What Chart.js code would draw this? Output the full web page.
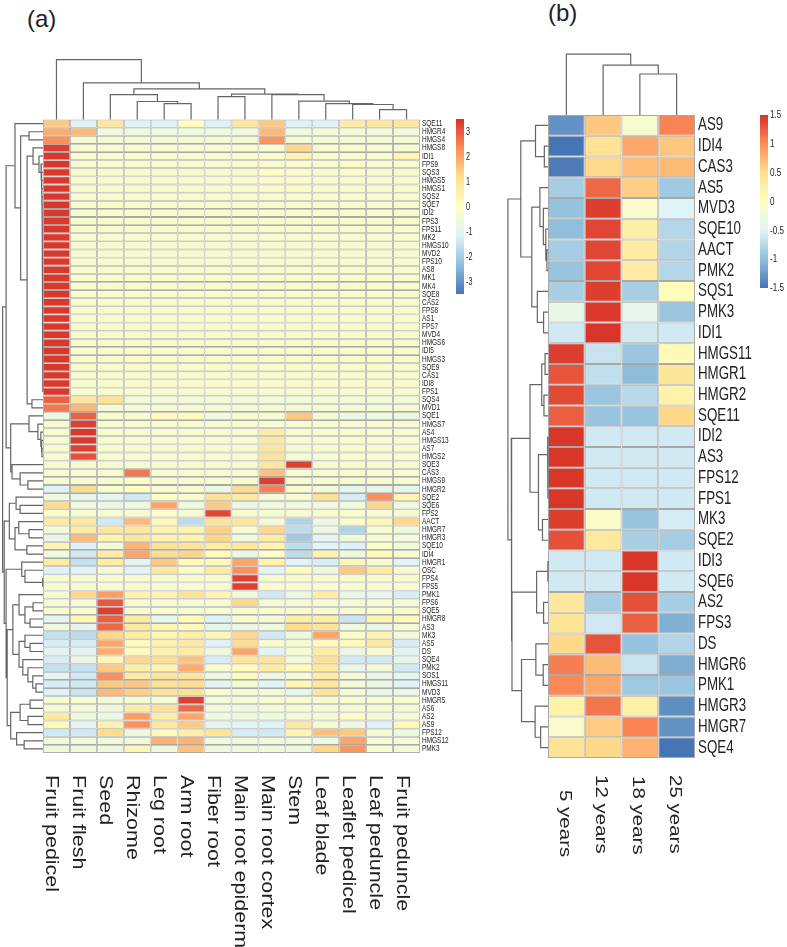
<!DOCTYPE html>
<html>
<head>
<meta charset="utf-8">
<title>Heatmaps</title>
<script src="https://cdn.jsdelivr.net/npm/chart.js@4"></script>
<style>
    html, body { margin: 0; padding: 0; background: #fff; }
    body { position: relative; width: 787px; height: 947px; overflow: hidden; }
    canvas { position: absolute; }
    .panel-tag { position: absolute; font: 24px "Liberation Sans", Arial, sans-serif; color: #222; }
</style>
</head>
<body>
<div class="panel-tag" style="left:27px;top:5px">(a)</div>
<div class="panel-tag" style="left:548px;top:-1px">(b)</div>
<canvas id="heatA" width="450" height="947" style="left:0;top:0"></canvas>
<canvas id="legendA" width="40" height="195" style="left:450px;top:109px"></canvas>
<canvas id="heatB" width="254" height="947" style="left:500px;top:0"></canvas>
<canvas id="legendB" width="33" height="193" style="left:754px;top:105px"></canvas>
<script>
// Panel (a): tissues
const tissues = ['Fruit pedicel', 'Fruit flesh', 'Seed', 'Rhizome', 'Leg root', 'Arm root', 'Fiber root',
    'Main root epiderm', 'Main root cortex', 'Stem', 'Leaf blade', 'Leaflet pedicel', 'Leaf peduncle', 'Fruit peduncle'];

const genesA = ['SQE11', 'HMGR4', 'HMGS4', 'HMGS8', 'IDI1', 'FPS9', 'SQS3', 'HMGS5', 'HMGS1', 'SQS2', 'SQE7', 'IDI2', 'FPS3',
    'FPS11', 'MK2', 'HMGS10', 'MVD2', 'FPS10', 'AS8', 'MK1', 'MK4', 'SQE8', 'CAS2', 'FPS8', 'AS1', 'FPS7', 'MVD4', 'HMGS6',
    'IDI5', 'HMGS3', 'SQE9', 'CAS1', 'IDI8', 'FPS1', 'SQS4', 'MVD1', 'SQE1', 'HMGS7', 'AS4', 'HMGS13', 'AS7', 'HMGS2', 'SQE3',
    'CAS3', 'HMGS9', 'HMGR2', 'SQE2', 'SQE6', 'FPS2', 'AACT', 'HMGR7', 'HMGR3', 'SQE10', 'IDI4', 'HMGR1', 'OSC', 'FPS4', 'FPS5',
    'PMK1', 'FPS6', 'SQE5', 'HMGR8', 'AS3', 'MK3', 'AS5', 'DS', 'SQE4', 'PMK2', 'SOS1', 'HMGS11', 'MVD3', 'HMGR5', 'AS6', 'AS2',
    'AS9', 'FPS12', 'HMGS12', 'PMK3'];

// one row per gene, one value per tissue
const valuesA = [
    [1.5, -1.2, 0.9, -1.2, -1.2, 0.05, -1.2, 0.9, 1.5, -1.2, -1.2, 0.7, 0.9, 0.9],
    [1.9, 1.7, -0.6, -0.6, -0.6, -0.6, -0.6, -0.6, 1.7, -0.6, -0.5, -0.5, -0.5, -0.5],
    [2.3, -0.4, -0.4, -0.4, -0.4, -0.4, -0.4, -0.4, 2.2, -0.4, -0.4, -0.4, -0.4, -0.4],
    [3.3, -0.3, -0.3, -0.3, -0.3, -0.3, -0.3, -0.3, -0.3, 1.3, -0.3, -0.3, -0.3, -0.3],
    [3.4, -0.3, -0.3, -0.3, -0.3, -0.3, -0.3, -0.3, -0.2, 0.4, -0.3, -0.3, -0.3, 0.3],
    [3.4, -0.25, -0.25, -0.25, -0.25, -0.25, -0.25, -0.25, -0.2, -0.2, -0.25, 0.1, -0.25, -0.25],
    [3.4, -0.25, -0.25, -0.25, -0.25, -0.25, -0.25, -0.25, -0.1, -0.2, -0.25, -0.2, -0.25, -0.25],
    [3.4, -0.15, -0.25, -0.25, -0.25, -0.15, -0.25, -0.25, -0.15, -0.2, -0.25, -0.25, -0.25, -0.25],
    [3.4, -0.25, -0.25, -0.25, -0.25, -0.25, -0.25, -0.25, -0.15, -0.15, -0.25, -0.25, -0.25, -0.25],
    [3.4, -0.25, -0.25, -0.25, -0.25, -0.25, -0.25, -0.25, -0.25, -0.25, -0.25, -0.25, -0.25, -0.25],
    [3.4, -0.25, -0.15, -0.25, -0.25, -0.25, -0.25, -0.25, -0.25, -0.25, -0.25, -0.25, -0.25, -0.25],
    [3.4, -0.25, -0.25, -0.25, -0.25, -0.25, -0.25, -0.25, -0.25, -0.25, -0.25, -0.25, -0.25, -0.25],
    [3.4, -0.25, -0.25, -0.25, -0.25, -0.25, -0.25, -0.25, -0.25, -0.25, -0.25, -0.25, -0.25, -0.25],
    [3.4, -0.25, -0.25, -0.25, -0.25, -0.25, -0.25, -0.25, -0.25, -0.25, -0.25, -0.25, -0.25, -0.25],
    [3.4, -0.25, -0.25, -0.25, -0.25, -0.25, -0.25, -0.25, -0.25, -0.25, -0.25, -0.25, -0.25, -0.25],
    [3.4, -0.25, -0.25, -0.25, -0.25, -0.25, -0.25, -0.25, -0.25, -0.25, -0.25, -0.25, -0.25, -0.25],
    [3.4, -0.25, -0.25, -0.25, -0.25, -0.25, -0.25, -0.25, -0.25, -0.25, -0.25, -0.25, -0.25, -0.25],
    [3.4, -0.25, -0.25, -0.25, -0.25, -0.25, -0.25, -0.25, -0.25, -0.25, -0.25, -0.25, -0.25, -0.25],
    [3.4, -0.25, -0.25, -0.25, -0.25, -0.25, -0.25, -0.25, -0.25, -0.25, -0.25, -0.25, -0.25, -0.25],
    [3.4, -0.25, -0.25, -0.25, -0.25, -0.25, -0.25, -0.25, -0.25, -0.25, -0.25, -0.25, -0.25, -0.25],
    [3.4, -0.25, -0.25, -0.25, -0.25, -0.25, -0.25, -0.25, -0.25, -0.25, -0.25, -0.25, -0.25, -0.25],
    [3.4, -0.25, -0.25, -0.25, -0.25, -0.25, -0.25, -0.25, -0.25, -0.25, -0.25, -0.25, -0.25, -0.25],
    [3.4, -0.25, -0.25, -0.25, -0.25, -0.25, -0.25, -0.25, -0.25, -0.25, -0.25, -0.25, -0.25, -0.25],
    [3.4, -0.25, -0.25, -0.25, -0.25, -0.25, -0.25, -0.25, -0.25, -0.25, -0.25, -0.25, -0.25, -0.25],
    [3.4, -0.25, -0.25, -0.25, -0.25, -0.25, -0.25, -0.25, -0.25, -0.25, -0.25, -0.25, -0.25, -0.25],
    [3.4, -0.25, -0.25, -0.25, -0.25, -0.25, -0.25, -0.25, -0.25, -0.25, -0.25, -0.25, -0.25, -0.25],
    [3.4, -0.25, -0.25, -0.25, -0.25, -0.25, -0.25, -0.25, -0.25, -0.25, -0.25, -0.25, -0.25, -0.25],
    [3.4, -0.25, -0.25, -0.25, -0.25, -0.25, -0.25, -0.25, -0.25, -0.25, -0.25, -0.25, -0.25, -0.25],
    [3.4, -0.25, -0.25, -0.25, -0.25, -0.25, -0.25, -0.25, -0.25, -0.25, -0.25, -0.25, -0.25, -0.25],
    [3.4, -0.25, -0.25, -0.15, -0.25, -0.25, -0.25, -0.25, -0.25, -0.25, -0.25, -0.25, -0.25, -0.25],
    [3.4, -0.25, -0.25, -0.25, -0.25, -0.25, -0.25, -0.25, -0.25, -0.25, -0.25, -0.25, -0.25, -0.25],
    [3.4, -0.25, -0.25, -0.25, -0.25, -0.25, -0.25, -0.25, -0.25, -0.25, -0.25, -0.25, -0.25, -0.25],
    [3.4, -0.25, -0.25, -0.25, -0.25, -0.25, -0.25, -0.25, -0.25, -0.25, -0.25, -0.25, -0.25, -0.25],
    [3.4, -0.25, -0.25, -0.25, -0.25, -0.25, -0.25, -0.25, -0.25, -0.25, -0.25, -0.25, -0.25, -0.25],
    [2.9, 0.9, 1.1, -0.5, -0.5, -0.5, -0.5, -0.5, -0.5, -0.5, -0.5, -0.5, -0.5, -0.5],
    [2.6, 1.7, -0.4, -0.4, -0.4, -0.4, -0.4, -0.4, -0.4, -0.4, -0.4, -0.4, -0.4, -0.4],
    [-0.7, 2.9, -0.3, -0.3, 0.1, 0.1, -0.6, -0.3, -0.3, 1.5, -0.4, -0.7, -0.6, -0.7],
    [-0.3, 3.3, -0.3, -0.3, -0.3, -0.3, -0.3, -0.3, -0.3, -0.3, -0.3, -0.3, -0.3, -0.3],
    [-0.3, 3.4, -0.3, -0.3, -0.3, -0.3, -0.3, -0.3, 0.7, -0.3, -0.3, -0.3, -0.3, -0.3],
    [-0.3, 3.4, -0.3, -0.3, -0.3, -0.3, -0.3, -0.3, 0.8, -0.3, -0.3, -0.3, -0.3, -0.3],
    [-0.3, 3.3, -0.3, -0.3, -0.3, -0.3, -0.3, -0.3, 0.9, -0.3, -0.3, -0.3, -0.3, -0.3],
    [-0.3, 3.1, -0.3, -0.3, -0.3, -0.3, -0.3, -0.3, 1.0, -0.3, -0.3, -0.3, -0.3, -0.3],
    [-0.3, -0.3, -0.3, -0.3, -0.3, -0.3, -0.3, -0.3, 0.9, 3.3, -0.3, -0.3, -0.3, -0.3],
    [-0.3, -0.3, -0.3, 2.6, -0.3, -0.3, -0.3, -0.3, 1.6, -0.3, -0.3, -0.3, -0.3, -0.3],
    [-0.3, -0.3, -0.3, -0.2, -0.3, -0.3, -0.3, -0.3, 3.3, -0.3, -0.3, -0.3, -0.3, -0.3],
    [-1.2, 1.2, -0.2, 0.0, -0.3, -0.3, -0.7, 1.2, 2.5, -0.3, -0.4, -0.9, -0.9, -0.9],
    [-0.6, -0.9, -1.0, -1.4, -0.1, -0.3, 1.1, 0.8, -0.5, -0.3, 1.1, -1.3, 2.3, 0.4],
    [1.2, -0.6, -0.7, -0.6, 2.0, -0.6, 1.5, -0.7, -0.6, -0.6, -0.6, -0.5, 1.3, -0.6],
    [-0.2, -0.3, -0.3, -0.3, -0.2, -0.3, 3.2, -0.3, -0.3, -0.3, -0.3, -0.2, -0.3, -0.3],
    [0.8, 0.8, -1.4, 1.7, 0.2, -1.7, 1.0, 0.9, -0.4, -1.9, -0.7, -0.2, 0.3, 1.3],
    [-0.5, 0.7, 0.9, 0.9, 0.4, 0.4, 1.4, -0.3, 1.3, -1.7, -0.7, -1.9, -0.3, -0.6],
    [-0.8, 1.7, 0.5, 0.9, 0.4, 0.4, 1.3, -0.6, 0.7, -2.1, -1.1, -0.6, -0.3, -0.5],
    [0.4, -1.2, -0.4, 1.8, 1.1, 1.0, 0.7, 0.9, 0.4, -1.7, -1.1, -1.2, -0.2, -0.5],
    [-0.6, -1.4, 0.7, 2.0, 1.2, 1.3, 0.1, -0.8, -0.2, -1.7, 0.4, -0.6, 0.2, -0.3],
    [0.7, -1.6, 0.7, -1.0, 1.5, 0.2, 0.2, 2.0, 0.5, -1.1, -1.3, 0.3, -0.3, -1.1],
    [-1.2, -1.1, -0.5, -1.1, 0.8, -0.2, 0.7, 2.3, -1.1, 0.1, -0.6, 1.5, 0.7, -0.3],
    [-0.3, -0.3, -0.3, -0.3, -0.3, -0.3, -0.3, 3.3, -0.3, -0.3, -0.3, -0.3, -0.3, -0.3],
    [-0.3, -0.3, -0.3, -0.3, -0.3, -0.3, -0.3, 3.3, -0.3, -0.3, -0.3, -0.3, -0.3, -0.3],
    [-0.4, 1.3, 2.1, 0.5, 0.4, 1.0, 0.4, -0.6, -1.4, -0.7, 0.7, -0.8, -0.9, -1.3],
    [-0.4, -0.4, 3.0, -0.3, -0.3, -0.3, -0.3, 1.3, -0.4, -0.4, -0.4, -0.4, -0.4, -0.4],
    [-0.3, -0.3, 3.3, -0.3, -0.3, -0.3, -0.3, -0.3, -0.3, -0.3, -0.3, -0.3, -0.3, -0.3],
    [-1.0, 0.3, 2.9, 0.7, -0.9, 0.1, -1.2, -0.3, -0.4, 0.6, 0.6, -1.5, 0.4, 0.2],
    [-0.6, -1.0, 2.8, 0.8, 0.3, 0.2, -0.9, -0.7, -0.6, 1.2, 1.0, -0.6, -0.8, -0.4],
    [-1.6, -1.7, 1.3, 0.7, 0.3, 0.6, 0.3, 1.3, -1.4, -0.6, 2.0, -0.1, 0.4, -0.5],
    [-1.3, -1.3, 2.0, 0.2, 0.5, 0.8, -1.2, 1.2, -0.2, -0.3, 0.2, 0.2, 0.8, -1.3],
    [-1.0, -1.0, 1.9, 0.1, 0.5, 0.7, -0.6, 2.0, -1.1, -0.3, 0.7, -0.8, -0.3, -1.0],
    [-1.3, -0.7, 0.3, 1.3, 1.2, 1.6, -1.3, 1.0, 1.0, -0.5, 1.1, -1.4, -1.4, -0.9],
    [-1.6, -1.6, 1.5, 0.6, 0.4, 1.9, -0.2, 0.1, 0.7, 0.2, 0.8, -0.8, -0.5, -1.4],
    [-1.0, -1.4, 2.3, 0.8, 1.0, 1.0, -0.7, 0.1, -0.7, -0.5, 0.7, -0.5, -0.9, -1.0],
    [-1.3, -1.4, 1.5, 1.5, 1.1, 1.2, -1.0, -0.4, -1.1, 0.3, 0.9, -0.4, -0.7, -1.2],
    [-1.2, -1.5, 1.7, 1.4, 1.0, 1.1, -0.3, -0.4, -0.5, -0.9, 1.0, -0.5, -0.8, -0.7],
    [-0.3, -0.3, -0.5, -0.3, -0.4, 3.3, -0.5, -0.5, -0.3, -0.3, -0.3, -0.3, -0.3, -0.3],
    [-0.4, -0.5, -0.6, 0.7, 1.1, 2.8, -0.5, -0.6, -0.4, -0.4, -0.4, -0.4, -0.4, -0.4],
    [0.8, -0.6, -0.7, 2.1, 0.6, 2.0, -0.6, -0.6, -0.6, -0.5, -0.4, -0.1, -0.4, -0.5],
    [0.2, -1.0, 0.5, 2.3, 0.8, 1.5, -1.0, -1.1, -1.2, 0.8, -0.3, -0.6, -1.2, 0.2],
    [-1.4, -1.4, 1.2, -0.6, 0.1, 0.6, 1.0, -1.3, -1.4, 0.4, 1.6, 1.5, -0.4, -0.6],
    [-0.6, -0.6, -0.6, -0.6, 1.8, 1.8, -0.6, -0.6, -0.6, -0.6, -0.6, 2.0, -0.4, -0.5],
    [-0.6, -0.6, -0.6, 0.3, -0.6, 1.6, -0.6, -0.6, -0.6, -0.6, 1.3, 2.2, -0.3, -0.5]
];

// Dendrograms are written like an hclust merge table: [left, right, height].
// left/right >= 0 is a leaf position, negative -n is the n-th merge above it.
const topTreeA = [
    [12, 13, -1.23], [11, -1, -1.85], [10, -2, -1.97], [9, -3, -2.26], [8, -4, -3.08], [6, 7, -2.83], [-6, -5, -3.12],
    [4, 5, -1.97], [3, -8, -2.22], [2, -9, -3.08], [-10, -7, -3.78], [1, -11, -4.52], [0, -12, -7.39]
];

const sideTreeA = [
    [32, 33, -0.008], [31, -1, -0.009], [30, -2, -0.01], [29, -3, -0.011], [28, -4, -0.012], [27, -5, -0.013],
    [26, -6, -0.014], [25, -7, -0.015], [24, -8, -0.016], [23, -9, -0.017], [22, -10, -0.018], [21, -11, -0.019],
    [20, -12, -0.02], [19, -13, -0.021], [18, -14, -0.022], [17, -15, -0.023], [16, -16, -0.024], [15, -17, -0.025],
    [14, -18, -0.026], [13, -19, -0.027], [12, -20, -0.028], [11, -21, -0.03], [10, -22, -0.033], [9, -23, -0.037],
    [8, -24, -0.042], [7, -25, -0.048], [6, -26, -0.056], [5, -27, -0.074], [4, -28, -0.149],
    [3, -29, -0.37], [34, 35, -0.41], [-30, -31, -0.59], [1, 2, -0.52], [-33, -32, -0.83], [0, -34, -1.04],
    [40, 41, -0.04], [39, -36, -0.06], [38, -37, -0.08], [37, -38, -0.19], [36, -39, -0.52],
    [44, 45, -0.56], [43, -41, -0.85], [42, -42, -1.15], [-40, -43, -1.2], [-35, -44, -1.37],
    [47, 48, -0.85], [46, -46, -1.0], [50, 51, -0.52], [49, -48, -0.9], [52, 53, -0.6], [-49, -50, -1.04], [-47, -51, -1.25],
    [56, 57, -0.01], [55, -53, -0.67], [54, -54, -0.79],
    [59, 60, -0.37], [61, 62, -0.48], [-56, -57, -0.67], [58, -58, -0.89],
    [64, 65, -0.48], [63, -60, -0.67], [69, 70, -0.26], [68, -62, -0.38], [67, -63, -0.56], [66, -64, -0.75], [-61, -65, -0.89],
    [-59, -66, -1.12],
    [71, 72, -0.48], [73, 74, -0.56], [-68, -69, -0.85], [76, 77, -0.7], [75, -71, -0.98], [-70, -72, -1.2],
    [-67, -73, -1.33], [-55, -74, -1.37], [-52, -75, -1.44], [-45, -76, -1.5]
];

// Panel (b): ages
const ages = ['5 years', '12 years', '18 years', '25 years'];

const genesB = ['AS9', 'IDI4', 'CAS3', 'AS5', 'MVD3', 'SQE10', 'AACT', 'PMK2', 'SQS1', 'PMK3', 'IDI1', 'HMGS11', 'HMGR1', 'HMGR2',
    'SQE11', 'IDI2', 'AS3', 'FPS12', 'FPS1', 'MK3', 'SQE2', 'IDI3', 'SQE6', 'AS2', 'FPS3', 'DS', 'HMGR6', 'PMK1', 'HMGR3', 'HMGR7', 'SQE4'];

const valuesB = [
    [-1.3, 0.65, -0.15, 1.05],
    [-1.5, 0.45, 0.85, 0.65],
    [-1.45, 0.55, 0.7, 0.72],
    [-0.87, 1.2, 0.6, -0.9],
    [-0.97, 1.42, -0.12, -0.5],
    [-1.0, 1.38, 0.25, -0.78],
    [-0.87, 1.38, 0.3, -0.8],
    [-0.95, 1.38, 0.3, -0.78],
    [-0.85, 1.42, -0.85, 0.05],
    [-0.35, 1.45, -0.38, -0.93],
    [-0.6, 1.48, -0.6, -0.6],
    [1.42, -0.65, -0.93, 0.08],
    [1.3, -0.7, -1.02, 0.4],
    [1.36, -0.93, -0.75, 0.2],
    [1.25, -0.95, -0.95, 0.55],
    [1.47, -0.6, -0.6, -0.6],
    [1.47, -0.6, -0.6, -0.6],
    [1.47, -0.6, -0.6, -0.6],
    [1.47, -0.6, -0.6, -0.6],
    [1.42, -0.08, -0.95, -0.57],
    [1.33, 0.35, -0.85, -0.87],
    [-0.6, -0.6, 1.47, -0.6],
    [-0.6, -0.6, 1.47, -0.6],
    [0.38, -0.87, 1.33, -0.87],
    [0.4, -0.6, 1.25, -1.1],
    [0.55, 1.3, -0.97, -0.8],
    [1.08, 0.72, -0.65, -1.12],
    [1.02, 0.85, -0.92, -0.93],
    [0.2, 1.12, 0.25, -1.33],
    [-0.12, 0.62, 1.05, -1.3],
    [0.45, 0.55, 0.78, -1.5]
];

const topTreeB = [[2, 3, -1.98], [1, -1, -2.41], [0, -2, -2.94]];

const sideTreeB = [
    [1, 2, -0.1], [0, -1, -0.34], [6, 7, -0.03], [5, -3, -0.06], [4, -4, -0.127], [3, -5, -0.22], [9, 10, -0.12], [8, -7, -0.29],
    [-6, -8, -0.44], [-2, -9, -0.74],
    [11, 12, -0.08], [13, 14, -0.11], [-11, -12, -0.17], [17, 18, -0.004], [16, -14, -0.006], [15, -15, -0.009], [19, 20, -0.15],
    [-16, -17, -0.26], [-13, -18, -0.49],
    [21, 22, -0.004], [23, 24, -0.12], [-20, -21, -0.31], [26, 27, -0.13], [25, -23, -0.33], [29, 30, -0.2], [28, -25, -0.35],
    [-24, -26, -0.72], [-22, -27, -0.98], [-19, -28, -1.0], [-10, -29, -1.09]
];

// Colour key tick labels
const legendTicksA = [3, 2, 1, 0, -1, -2, -3];
const legendTicksB = [1.5, 1, 0.5, 0, -0.5, -1, -1.5];
const limitA = 3.5;
const limitB = 1.5;

const paletteStops = ['#4575b4', '#91bfdb', '#e0f3f8', '#ffffbf', '#fee090', '#fc8d59', '#d73027'];
const plainFont = '"Liberation Sans", Arial, sans-serif';

function hexToRgb(hex) {
    return [1, 3, 5].map(i => parseInt(hex.slice(i, i + 2), 16));
}

function heatColor(value, limit) {
    const t = Math.min(0.9999, Math.max(0, (value + limit) / (2 * limit))) * (paletteStops.length - 1);
    const i = Math.floor(t);
    const a = hexToRgb(paletteStops[i]);
    const b = hexToRgb(paletteStops[i + 1]);
    const rgb = a.map((c, k) => Math.round(c + (b[k] - c) * (t - i)));
    return `rgb(${rgb[0]}, ${rgb[1]}, ${rgb[2]})`;
}

// Walk the merge table and give back the U shaped paths, leaf centres at position + 0.5
function treePoints(merges, horizontal) {
    const nodes = [];
    const points = [];
    const resolve = ref => (ref >= 0 ? { pos: ref + 0.5, height: 0 } : nodes[-ref - 1]);
    const push = (pos, height) => points.push(horizontal ? { x: pos, y: height } : { x: height, y: pos });
    merges.forEach(([left, right, height]) => {
        const a = resolve(left);
        const b = resolve(right);
        push(a.pos, a.height);
        push(a.pos, height);
        push(b.pos, height);
        push(b.pos, b.height);
        points.push({ x: b.pos, y: null });
        nodes.push({ pos: (a.pos + b.pos) / 2, height: height });
    });
    return points;
}

function treeDataset(label, points) {
    return {
        type: 'line',
        label: label,
        data: points,
        borderColor: '#666',
        borderWidth: 1.2,
        pointRadius: 0,
        tension: 0,
        spanGaps: false,
        order: 0
    };
}

// Column names run downwards under the heatmap, which the tick rotation can't do
function columnLabelPlugin(names, fontSize, tops, shift, squeeze) {
    return {
        id: 'columnLabels',
        afterDraw(chart) {
            const ctx = chart.ctx;
            ctx.save();
            ctx.font = `${fontSize}px ${plainFont}`;
            ctx.fillStyle = '#222';
            ctx.textBaseline = 'middle';
            ctx.textAlign = 'left';
            names.forEach((name, i) => {
                ctx.save();
                ctx.translate(chart.scales.x.getPixelForValue(i + 0.5) + shift, tops[i]);
                ctx.rotate(Math.PI / 2);
                ctx.scale(1, squeeze);
                ctx.fillText(name, 0, 0);
                ctx.restore();
            });
            ctx.restore();
        }
    };
}

// Labels right of the plot are condensed in the figure, no narrow font is installed so squeeze them
function sideLabelPlugin(labels, values, gap, fontSize, squeeze) {
    return {
        id: 'sideLabels',
        afterDraw(chart) {
            const ctx = chart.ctx;
            ctx.save();
            ctx.font = `${fontSize}px ${plainFont}`;
            ctx.fillStyle = '#222';
            ctx.textBaseline = 'middle';
            ctx.textAlign = 'left';
            labels.forEach((label, i) => {
                ctx.save();
                ctx.translate(chart.chartArea.right + gap, chart.scales.y.getPixelForValue(values[i]));
                ctx.scale(squeeze, 1);
                ctx.fillText(label, 0, 0);
                ctx.restore();
            });
            ctx.restore();
        }
    };
}

function drawHeatmap(canvasId, cfg) {
    const cellSets = cfg.columns.map((name, c) => ({
        label: name,
        grouped: false,
        barPercentage: 1,
        categoryPercentage: 1,
        borderSkipped: false,
        borderWidth: cfg.gridWidth,
        borderColor: '#a8a8a8',
        inflateAmount: 0,
        order: 1,
        data: cfg.rows.map((gene, r) => ({ x: c + 0.5, y: [r, r + 1], v: cfg.values[r][c] })),
        backgroundColor: ctx => (ctx.raw ? heatColor(ctx.raw.v, cfg.limit) : '#fff')
    }));

    return new Chart(document.getElementById(canvasId), {
        type: 'bar',
        data: {
            datasets: [
                ...cellSets,
                treeDataset('column tree', treePoints(cfg.topTree, true)),
                treeDataset('row tree', treePoints(cfg.sideTree, false))
            ]
        },
        options: {
            responsive: false,
            animation: false,
            layout: { autoPadding: false, padding: { left: 0, top: 0, right: cfg.rightPad, bottom: cfg.bottomPad } },
            scales: {
                x: { type: 'linear', offset: false, min: cfg.xMin, max: cfg.columns.length, display: false },
                y: { type: 'linear', reverse: true, min: cfg.yMin, max: cfg.rows.length, display: false }
            },
            plugins: { legend: { display: false }, tooltip: { enabled: false } }
        },
        plugins: [
            columnLabelPlugin(cfg.columns, cfg.columnSize, cfg.columnTops, cfg.columnShift, cfg.columnSqueeze),
            sideLabelPlugin(cfg.rows, cfg.rows.map((gene, r) => r + 0.5), cfg.labelGap, cfg.labelSize, cfg.labelSqueeze)
        ]
    });
}

function drawLegend(canvasId, limit, tickValues, fontSize, squeeze, rightPad) {
    return new Chart(document.getElementById(canvasId), {
        type: 'bar',
        data: {
            labels: [''],
            datasets: [{
                data: [[-limit, limit]],
                barPercentage: 1,
                categoryPercentage: 1,
                inflateAmount: 0,
                backgroundColor(ctx) {
                    const area = ctx.chart.chartArea;
                    if (!area) return '#fff';
                    const gradient = ctx.chart.ctx.createLinearGradient(0, area.bottom, 0, area.top);
                    paletteStops.forEach((c, i) => gradient.addColorStop(i / (paletteStops.length - 1), c));
                    return gradient;
                }
            }]
        },
        options: {
            responsive: false,
            animation: false,
            layout: { autoPadding: false, padding: { left: 6, top: 10, right: rightPad, bottom: 10 } },
            scales: {
                x: { display: false },
                y: { min: -limit, max: limit, display: false }
            },
            plugins: { legend: { display: false }, tooltip: { enabled: false } }
        },
        plugins: [sideLabelPlugin(tickValues.map(String), tickValues, 2, fontSize, squeeze)]
    });
}

drawHeatmap('heatA', {
    columns: tissues,
    rows: genesA,
    values: valuesA,
    topTree: topTreeA,
    sideTree: sideTreeA,
    limit: limitA,
    xMin: -1.597,
    yMin: -14.72,
    rightPad: 30,
    bottomPad: 194,
    labelGap: 2,
    labelSize: 9,
    labelSqueeze: 0.72,
    gridWidth: 0.9,
    columnSize: 21.5,
    columnTops: tissues.map(() => 775),
    columnShift: -5,
    columnSqueeze: 0.85
});

drawHeatmap('heatB', {
    columns: ages,
    rows: genesB,
    values: valuesB,
    topTree: topTreeB,
    sideTree: sideTreeB,
    limit: limitB,
    xMin: -1.306,
    yMin: -5.547,
    rightPad: 59,
    bottomPad: 189,
    labelGap: 3,
    labelSize: 18,
    labelSqueeze: 0.74,
    gridWidth: 1,
    columnSize: 20.5,
    columnTops: [790, 775, 776, 775],
    columnShift: -2,
    columnSqueeze: 0.85
});

drawLegend('legendA', limitA, legendTicksA, 11, 0.65, 26);
drawLegend('legendB', limitB, legendTicksB, 11.5, 0.7, 19);
</script>
</body>
</html>
